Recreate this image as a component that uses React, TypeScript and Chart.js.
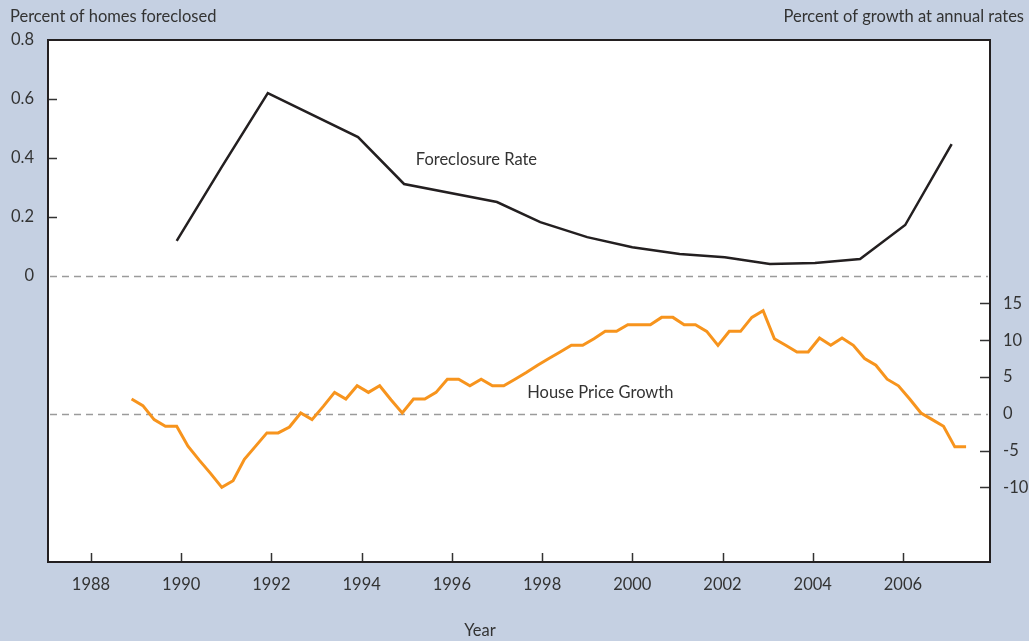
import React, { useEffect, useRef } from "react";
import { Chart, registerables } from "chart.js";
Chart.register(...registerables);

// Foreclosure rate (percent of homes foreclosed), annual
const foreclosureYears = [1989.9, 1990.9, 1991.92, 1993.92, 1994.94, 1997.0, 1997.96, 1999.0, 2000.0, 2001.05, 2002.05, 2003.05, 2004.05, 2005.05, 2006.05, 2007.08];
const foreclosureRate = [0.119, 0.37, 0.62, 0.471, 0.312, 0.251, 0.183, 0.132, 0.098, 0.075, 0.064, 0.041, 0.044, 0.058, 0.173, 0.447];

// House price growth (percent, annual rate), quarterly starting 1988 Q4
const hpgStartYear = 1988.9;
const hpgStep = 0.25;
const housePriceGrowth = [
  2.0, 1.1, -0.8, -1.7, -1.7, -4.4, -6.3, -8.1, -10.0, -9.1,
  -6.2, -4.4, -2.6, -2.6, -1.8, 0.1, -0.8, 1.0, 2.9, 2.0,
  3.8, 2.9, 3.8, 1.9, 0.1, 2.0, 2.0, 2.9, 4.7, 4.7,
  3.8, 4.7, 3.8, 3.8, 4.7, 5.6, 6.6, 7.5, 8.4, 9.3,
  9.3, 10.2, 11.2, 11.2, 12.1, 12.1, 12.1, 13.1, 13.1, 12.1,
  12.1, 11.2, 9.3, 11.2, 11.2, 13.1, 14.0, 10.2, 9.3, 8.4,
  8.4, 10.3, 9.3, 10.3, 9.3, 7.5, 6.6, 4.7, 3.8, 2.0,
  0.1, -0.8, -1.7, -4.5, -4.5,
];

const xTicks = [1988, 1990, 1992, 1994, 1996, 1998, 2000, 2002, 2004, 2006];
const leftTicks = [0, 0.2, 0.4, 0.6, 0.8];
const rightTicks = [-10, -5, 0, 5, 10, 15];

const leftTitle = "Percent of homes foreclosed";
const rightTitle = "Percent of growth at annual rates";
const xTitle = "Year";
const foreclosureLabel = { text: "Foreclosure Rate", year: 1995.2, value: 0.393 };
const hpgLabel = { text: "House Price Growth", year: 1997.67, value: 2.85 };

const FONT = "Lato, 'Noto Sans', sans-serif";
const TEXT = "#333333";
const BG = "#c5d0e2";

export default function App() {
  const ref = useRef<HTMLCanvasElement | null>(null);

  useEffect(() => {
    document.body.style.margin = "0";
    const canvas = ref.current!;
    const overlay = {
      id: "overlay",
      beforeDraw(chart: any) {
        const { ctx, chartArea: a } = chart;
        ctx.save();
        ctx.fillStyle = "#ffffff";
        ctx.fillRect(a.left, a.top, a.right - a.left, a.bottom - a.top);
        ctx.restore();
      },
      beforeDatasetsDraw(chart: any) {
        const { ctx, chartArea: a, scales } = chart;
        ctx.save();
        ctx.strokeStyle = "#9b9b9b";
        ctx.lineWidth = 1.5;
        ctx.setLineDash([7, 5]);
        for (const id of ["y", "y2"]) {
          const py = Math.round(scales[id].getPixelForValue(0)) + 0.5;
          ctx.beginPath();
          ctx.moveTo(a.left + 2, py);
          ctx.lineTo(a.right - 2, py);
          ctx.stroke();
        }
        ctx.restore();
      },
      afterDraw(chart: any) {
        const { ctx, chartArea: a, scales } = chart;
        ctx.save();
        // tick marks (inside)
        ctx.strokeStyle = "#333";
        ctx.lineWidth = 1.5;
        for (const t of xTicks) {
          const px = Math.round(scales.x.getPixelForValue(t)) + 0.5;
          ctx.beginPath();
          ctx.moveTo(px, a.bottom);
          ctx.lineTo(px, a.bottom - 9);
          ctx.stroke();
        }
        for (const t of leftTicks) {
          if (t === 0 || t === 0.8) continue;
          const py = Math.round(scales.y.getPixelForValue(t)) + 0.5;
          ctx.beginPath();
          ctx.moveTo(a.left, py);
          ctx.lineTo(a.left + 9, py);
          ctx.stroke();
        }
        for (const t of rightTicks) {
          if (t === 0) continue;
          const py = Math.round(scales.y2.getPixelForValue(t)) + 0.5;
          ctx.beginPath();
          ctx.moveTo(a.right, py);
          ctx.lineTo(a.right - 10, py);
          ctx.stroke();
        }
        // frame
        ctx.strokeStyle = "#231f20";
        ctx.lineWidth = 2;
        ctx.strokeRect(a.left, a.top, a.right - a.left, a.bottom - a.top);
        // texts
        ctx.fillStyle = TEXT;
        ctx.font = `16.5px ${FONT}`;
        ctx.textBaseline = "middle";
        ctx.textAlign = "left";
        ctx.fillText(leftTitle, 10, 17);
        ctx.textAlign = "right";
        ctx.fillText(rightTitle, 1024, 17);
        ctx.textAlign = "center";
        ctx.fillText(xTitle, 480, 631);
        ctx.textAlign = "left";
        ctx.fillText(
          foreclosureLabel.text,
          scales.x.getPixelForValue(foreclosureLabel.year),
          scales.y.getPixelForValue(foreclosureLabel.value)
        );
        ctx.fillText(
          hpgLabel.text,
          scales.x.getPixelForValue(hpgLabel.year),
          scales.y2.getPixelForValue(hpgLabel.value)
        );
        ctx.restore();
      },
    };

    const tickFont = { family: FONT, size: 16.5 };
    const chart = new Chart(canvas, {
      type: "line",
      data: {
        datasets: [
          {
            label: "Foreclosure Rate",
            data: foreclosureYears.map((x, i) => ({ x, y: foreclosureRate[i] })),
            borderColor: "#231f20",
            borderWidth: 2.5,
            pointRadius: 0,
            tension: 0,
            yAxisID: "y",
          },
          {
            label: "House Price Growth",
            data: housePriceGrowth.map((y, i) => ({ x: hpgStartYear + i * hpgStep, y })),
            borderColor: "#f7941d",
            borderWidth: 3,
            pointRadius: 0,
            tension: 0,
            yAxisID: "y2",
          },
        ],
      },
      options: {
        animation: false,
        responsive: false,
        devicePixelRatio: 1,
        layout: { padding: { top: 40, left: 0, right: 0, bottom: 0 } },
        plugins: { legend: { display: false }, tooltip: { enabled: false }, title: { display: false } },
        scales: {
          x: {
            type: "linear",
            position: "bottom",
            min: 1987.047,
            max: 2007.93,
            grid: { display: false, drawTicks: false },
            border: { display: false },
            afterBuildTicks: (s: any) => { s.ticks = xTicks.map((v) => ({ value: v })); },
            afterFit: (s: any) => { s.height = 79; },
            ticks: {
              autoSkip: false,
              maxRotation: 0,
              padding: 13,
              color: TEXT,
              font: tickFont,
              callback: (v: any) => String(v),
            },
          },
          y: {
            type: "linear",
            position: "left",
            min: -0.969,
            max: 0.8,
            grid: { display: false, drawTicks: false },
            border: { display: false },
            afterBuildTicks: (s: any) => { s.ticks = leftTicks.map((v) => ({ value: v })); },
            afterFit: (s: any) => { s.width = 48; },
            ticks: {
              padding: 14,
              color: TEXT,
              font: tickFont,
              callback: (v: any) => (v === 0 ? "0" : Number(v).toFixed(1)),
            },
          },
          y2: {
            type: "linear",
            position: "right",
            min: -20.15,
            max: 50.8,
            grid: { display: false, drawTicks: false },
            border: { display: false },
            afterBuildTicks: (s: any) => { s.ticks = rightTicks.map((v) => ({ value: v })); },
            afterFit: (s: any) => { s.width = 39; },
            ticks: {
              padding: 13,
              color: TEXT,
              font: tickFont,
              callback: (v: any) => String(v),
            },
          },
        },
      },
      plugins: [overlay],
    });
    return () => chart.destroy();
  }, []);

  return (
    <div style={{ position: "fixed", left: 0, top: 0, width: 1029, height: 641, background: BG }}>
      <canvas ref={ref} width={1029} height={641} style={{ display: "block" }} />
    </div>
  );
}
